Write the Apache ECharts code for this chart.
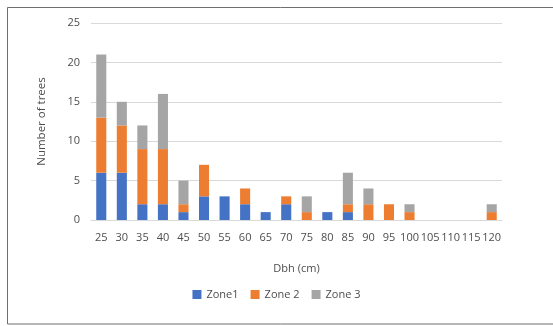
<!DOCTYPE html>
<html>
<head>
<meta charset="utf-8">
<script src="https://cdn.jsdelivr.net/npm/echarts@6/dist/echarts.min.js"></script>
<style>
  html, body { margin: 0; padding: 0; background: #fff; }
  #chart { width: 553px; height: 326px; }
</style>
</head>
<body>
<div id="chart"></div>
<script>
// Diameter classes (cm)
const categories = ['25','30','35','40','45','50','55','60','65','70','75','80','85','90','95','100','105','110','115','120'];
// Tree counts per zone
const zone1 = [6, 6, 2, 2, 1, 3, 3, 2, 1, 2, 0, 1, 1, 0, 0, 0, 0, 0, 0, 0];
const zone2 = [7, 6, 7, 7, 1, 4, 0, 2, 0, 1, 1, 0, 1, 2, 2, 1, 0, 0, 0, 1];
const zone3 = [8, 3, 3, 7, 3, 0, 0, 0, 0, 0, 2, 0, 4, 2, 0, 1, 0, 0, 0, 1];
const yTicks = [0, 5, 10, 15, 20, 25];

const font = '"Open Sans", "Liberation Sans", sans-serif';
const textColor = '#4d4d4d';

const chart = echarts.init(document.getElementById('chart'), null, { renderer: 'canvas' });

function zoneSeries(name, data, color) {
  return {
    name: name,
    type: 'bar',
    stack: 'total',
    barWidth: '49%',
    data: data,
    itemStyle: { color: color }
  };
}

chart.setOption({
  animation: false,
  textStyle: { fontFamily: font },
  graphic: [{
    type: 'rect',
    shape: { x: 7.5, y: 7.5, width: 560, height: 316.5 },
    style: { fill: 'none', stroke: '#6f6f6f', lineWidth: 1 },
    silent: true
  }],
  grid: { left: 91, right: 51, top: 23, bottom: 106 },
  legend: {
    bottom: 21,
    left: 'center',
    itemWidth: 9,
    itemHeight: 9,
    itemGap: 12,
    icon: 'rect',
    textStyle: { color: textColor, fontSize: 11, fontFamily: font },
    data: ['Zone1', 'Zone 2', 'Zone 3']
  },
  xAxis: {
    type: 'category',
    data: categories,
    name: 'Dbh (cm)',
    nameLocation: 'middle',
    nameGap: 43,
    nameTextStyle: { color: textColor, fontSize: 11, fontFamily: font },
    axisLine: { lineStyle: { color: '#d9d9d9', width: 1 } },
    axisTick: { show: false },
    axisLabel: { color: textColor, fontSize: 11, margin: 12, interval: 0, fontFamily: font },
  },
  yAxis: {
    type: 'value',
    min: yTicks[0],
    max: yTicks[yTicks.length - 1],
    interval: 5,
    name: 'Number of trees',
    nameLocation: 'middle',
    nameGap: 43,
    nameTextStyle: { color: textColor, fontSize: 11.5, fontFamily: font },
    axisLine: { show: false },
    axisTick: { show: false },
    axisLabel: { color: textColor, fontSize: 11, margin: 11, fontFamily: font },
    splitLine: { lineStyle: { color: '#d9d9d9', width: 1 } }
  },
  series: [
    zoneSeries('Zone1', zone1, '#4472C4'),
    zoneSeries('Zone 2', zone2, '#ED7D31'),
    zoneSeries('Zone 3', zone3, '#A5A5A5')
  ]
});
</script>
</body>
</html>
